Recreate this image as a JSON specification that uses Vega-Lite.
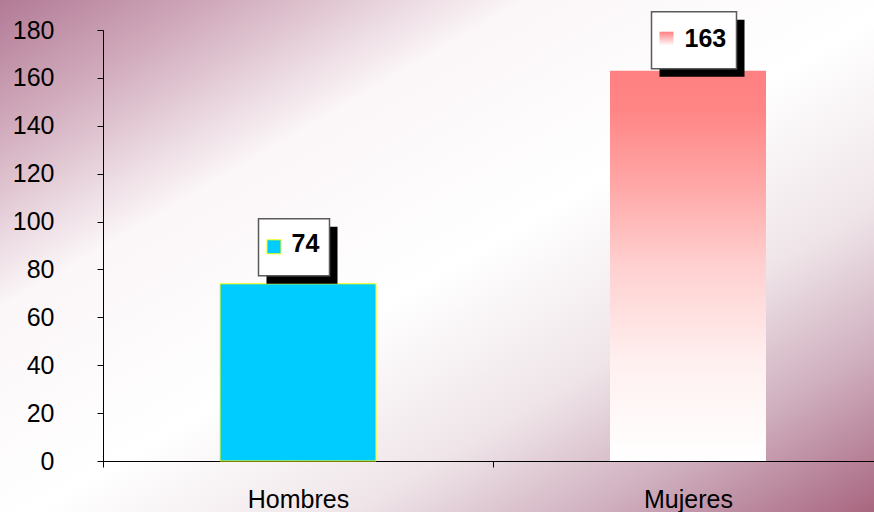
{
  "$schema": "https://vega.github.io/schema/vega-lite/v6.json",
  "width": 874,
  "height": 512,
  "autosize": {"type": "none"},
  "padding": 0,
  "background": "#ffffff",
  "config": {
    "font": "Liberation Sans",
    "view": {
      "stroke": null,
      "fill": {
        "gradient": "linear",
        "x1": 0, "y1": 0, "x2": 1, "y2": 1,
        "stops": [
          {"offset": 0, "color": "#B27A96"},
          {"offset": 0.14, "color": "#D4B0C0"},
          {"offset": 0.3, "color": "#FBF6F8"},
          {"offset": 0.52, "color": "#FFFFFF"},
          {"offset": 0.7, "color": "#EFE5E9"},
          {"offset": 0.84, "color": "#D0B0BF"},
          {"offset": 1, "color": "#A8667F"}
        ]
      }
    }
  },
  "data": {
    "values": [
      {"sexo": "Hombres", "valor": 74},
      {"sexo": "Mujeres", "valor": 163}
    ]
  },
  "encoding": {
    "x": {
      "field": "sexo",
      "type": "nominal",
      "sort": null,
      "scale": {"range": [103, 883], "paddingInner": 0, "paddingOuter": 0},
      "axis": {
        "orient": "bottom",
        "offset": -51,
        "title": null,
        "labelAngle": 0,
        "labelFontSize": 25,
        "labelColor": "#000000",
        "labelPadding": 20,
        "tickBand": "extent",
        "tickSize": 6,
        "tickColor": "#000000",
        "domainColor": "#000000",
        "grid": false
      }
    },
    "y": {
      "field": "valor",
      "type": "quantitative",
      "scale": {"domain": [0, 180], "range": [461, 30], "nice": false},
      "axis": {
        "orient": "left",
        "offset": -103,
        "title": null,
        "values": [0, 20, 40, 60, 80, 100, 120, 140, 160, 180],
        "labelFontSize": 25,
        "labelColor": "#000000",
        "labelPadding": 43,
        "tickSize": 6,
        "tickColor": "#000000",
        "domainColor": "#000000",
        "grid": false
      }
    }
  },
  "layer": [
    {
      "mark": {"type": "bar", "width": {"band": 0.4}, "strokeWidth": 1},
      "encoding": {
        "fill": {
          "condition": {
            "test": "datum.sexo === 'Mujeres'",
            "value": {
              "gradient": "linear",
              "x1": 0, "y1": 0, "x2": 0, "y2": 1,
              "stops": [
                {"offset": 0, "color": "#FF8080"},
                {"offset": 0.1, "color": "#FF8585"},
                {"offset": 0.3, "color": "#FFA8A8"},
                {"offset": 0.5, "color": "#FFD0D0"},
                {"offset": 0.75, "color": "#FFF0F0"},
                {"offset": 1, "color": "#FFFFFF"}
              ]
            }
          },
          "value": "#00CCFF"
        },
        "stroke": {
          "condition": {"test": "datum.sexo === 'Mujeres'", "value": null},
          "value": "#FFFF00"
        }
      }
    },
    {
      "mark": {
        "type": "point",
        "filled": true,
        "opacity": 1,
        "fill": "#000000",
        "strokeWidth": 0,
        "xOffset": {"expr": "datum.valor > 100 ? 14 : 4"},
        "yOffset": {"expr": "datum.valor > 100 ? -22.5 : -28.5"}
      },
      "encoding": {
        "shape": {
          "condition": {"test": "datum.valor > 100", "value": "M-1,-0.671L1,-0.671L1,0.671L-1,0.671Z"},
          "value": "M-1,-0.803L1,-0.803L1,0.803L-1,0.803Z"
        },
        "size": {
          "condition": {"test": "datum.valor > 100", "value": 7225},
          "value": 5041
        }
      }
    },
    {
      "mark": {
        "type": "point",
        "filled": false,
        "opacity": 1,
        "fill": "#FFFFFF",
        "fillOpacity": 1,
        "stroke": "#5A5A5A",
        "strokeWidth": 1.5,
        "xOffset": {"expr": "datum.valor > 100 ? 6 : -4"},
        "yOffset": {"expr": "datum.valor > 100 ? -30.5 : -36.5"}
      },
      "encoding": {
        "shape": {
          "condition": {"test": "datum.valor > 100", "value": "M-1,-0.671L1,-0.671L1,0.671L-1,0.671Z"},
          "value": "M-1,-0.803L1,-0.803L1,0.803L-1,0.803Z"
        },
        "size": {
          "condition": {"test": "datum.valor > 100", "value": 7225},
          "value": 5041
        }
      }
    },
    {
      "mark": {
        "type": "point",
        "shape": "square",
        "size": 196,
        "opacity": 1,
        "fillOpacity": 1,
        "strokeWidth": 1,
        "xOffset": {"expr": "datum.valor > 100 ? -21.5 : -24"},
        "yOffset": {"expr": "datum.valor > 100 ? -32 : -37"}
      },
      "encoding": {
        "fill": {
          "condition": {
            "test": "datum.sexo === 'Mujeres'",
            "value": {
              "gradient": "linear",
              "x1": 0, "y1": 0, "x2": 0, "y2": 1,
              "stops": [
                {"offset": 0, "color": "#FF8080"},
                {"offset": 1, "color": "#FFFFFF"}
              ]
            }
          },
          "value": "#00CCFF"
        },
        "stroke": {
          "condition": {"test": "datum.sexo === 'Mujeres'", "value": null},
          "value": "#FFFF00"
        }
      }
    },
    {
      "mark": {
        "type": "text",
        "align": "left",
        "baseline": "middle",
        "fontSize": 25,
        "fontWeight": "bold",
        "color": "#000000",
        "xOffset": {"expr": "datum.valor > 100 ? -3.5 : -6.5"},
        "yOffset": {"expr": "datum.valor > 100 ? -32 : -39.5"}
      },
      "encoding": {
        "text": {"field": "valor", "type": "quantitative"}
      }
    }
  ]
}
